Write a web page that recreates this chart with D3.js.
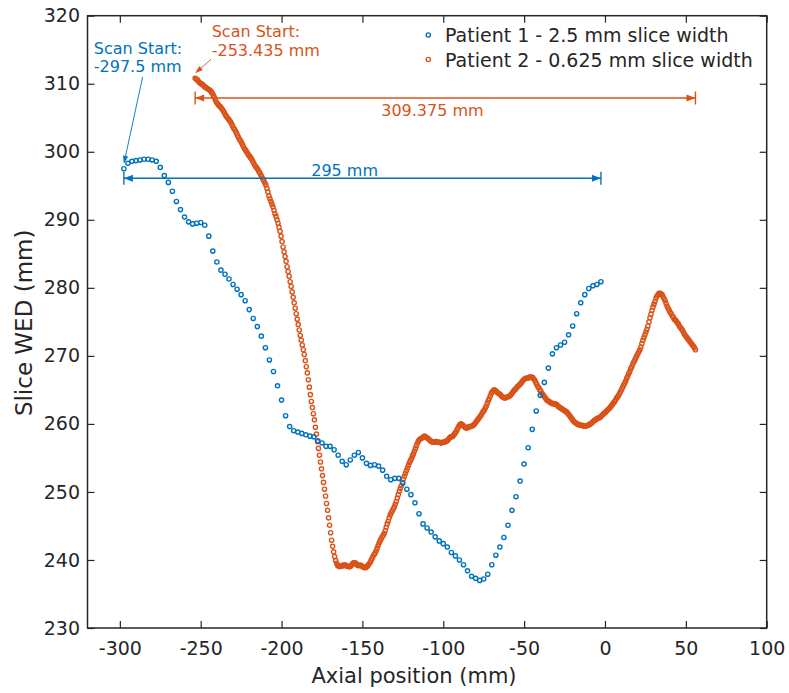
<!DOCTYPE html>
<html>
<head>
<meta charset="utf-8">
<script src="https://cdn.jsdelivr.net/npm/d3@7"></script>
<style>
  html, body { margin: 0; padding: 0; background: #fff; }
  svg { display: block; font-family: "DejaVu Sans", sans-serif; }
</style>
</head>
<body>
<svg id="chart" width="789" height="693"></svg>
<script>
// Axis ticks
const xTicks = [-300, -250, -200, -150, -100, -50, 0, 50, 100];
const yTicks = [230, 240, 250, 260, 270, 280, 290, 300, 310, 320];

// Series labels
const seriesNames = ["Patient 1 - 2.5 mm slice width", "Patient 2 - 0.625 mm slice width"];

// Patient 1: slice WED every 2.5 mm starting at the scan start
const p1Start = -297.5;
const p1Step = 2.5;
const p1Wed = [
  297.5, 298.3, 298.6, 298.7, 298.8, 298.9, 298.9, 298.8, 298.6, 297.7,
  296.5, 295.5, 294.2, 292.7, 291.5, 290.4, 289.7, 289.4, 289.5, 289.6,
  289.2, 287.6, 285.4, 283.8, 282.6, 282.0, 281.3, 280.5, 279.8, 279.0,
  278.1, 276.8, 275.5, 274.3, 272.9, 271.2, 269.4, 267.7, 265.6, 263.5,
  261.2, 259.6, 259.0, 258.8, 258.6, 258.4, 258.2, 258.1, 257.5, 257.2,
  256.7, 256.7, 256.2, 255.4, 254.5, 254.0, 254.7, 255.4, 255.8, 255.0,
  254.2, 253.9, 254.0, 253.8, 253.2, 252.3, 251.8, 252.0, 252.0, 251.3,
  250.4, 249.6, 248.4, 246.8, 245.3, 244.7, 244.1, 243.4, 242.8, 242.4,
  241.9, 241.1, 240.6, 240.0, 239.3, 238.4, 237.6, 237.3, 237.0, 237.2,
  237.9, 239.3, 240.7, 241.9, 243.3, 245.1, 247.3, 249.3, 251.6, 254.1,
  256.5, 259.2, 261.9, 264.2, 266.1, 268.2, 270.3, 271.2, 271.6, 272.0,
  273.1, 274.4, 276.2, 277.8, 279.0, 279.9, 280.3, 280.5, 280.9
];

// Patient 2: slice WED every 0.625 mm starting at the scan start
const p2Start = -253.435;
const p2Step = 0.625;
const p2Wed = [
  310.8, 310.7, 310.6, 310.4, 310.2, 310.1, 310.0, 309.9, 309.8, 309.6,
  309.5, 309.4, 309.3, 309.2, 309.1, 309.0, 308.8, 308.6, 308.3, 308.0,
  307.6, 307.3, 307.1, 306.9, 306.7, 306.6, 306.4, 306.2, 306.0, 305.7,
  305.4, 305.2, 305.0, 304.8, 304.6, 304.4, 304.1, 303.8, 303.5, 303.3,
  303.0, 302.7, 302.4, 302.1, 301.8, 301.6, 301.3, 301.0, 300.7, 300.4,
  300.2, 300.0, 299.7, 299.5, 299.3, 299.1, 298.9, 298.6, 298.3, 298.0,
  297.8, 297.6, 297.4, 297.1, 296.9, 296.6, 296.3, 296.0, 295.7, 295.4,
  295.1, 294.6, 294.1, 293.5, 293.1, 292.7, 292.3, 291.9, 291.4, 290.9,
  290.5, 290.0, 289.5, 288.9, 288.3, 287.6, 286.8, 286.0, 285.3, 284.6,
  283.9, 283.1, 282.4, 281.7, 280.9, 280.2, 279.4, 278.6, 277.8, 277.0,
  276.2, 275.4, 274.6, 273.8, 273.0, 272.3, 271.6, 270.9, 270.2, 269.3,
  268.4, 267.5, 266.5, 265.4, 264.3, 263.3, 262.4, 261.5, 260.6, 259.5,
  258.5, 257.4, 256.4, 255.4, 254.4, 253.4, 252.4, 251.4, 250.4, 249.4,
  248.3, 247.3, 246.2, 245.1, 244.0, 242.9, 242.0, 241.2, 240.5, 239.9,
  239.5, 239.2, 239.1, 239.0, 239.1, 239.1, 239.2, 239.2, 239.3, 239.2,
  239.1, 239.1, 239.0, 239.0, 239.1, 239.3, 239.5, 239.6, 239.6, 239.5,
  239.3, 239.2, 239.2, 239.2, 239.2, 239.1, 239.0, 238.9, 238.9, 238.9,
  239.0, 239.2, 239.4, 239.6, 239.9, 240.2, 240.5, 240.8, 241.0, 241.3,
  241.7, 242.1, 242.5, 242.8, 243.1, 243.4, 243.6, 243.9, 244.3, 244.8,
  245.3, 245.7, 246.2, 246.6, 246.9, 247.2, 247.5, 247.8, 248.2, 248.6,
  249.1, 249.6, 250.1, 250.5, 250.9, 251.4, 251.9, 252.3, 252.7, 253.1,
  253.5, 253.9, 254.3, 254.6, 254.9, 255.3, 255.6, 256.0, 256.4, 256.8,
  257.2, 257.5, 257.7, 257.8, 257.9, 258.0, 258.1, 258.2, 258.1, 258.0,
  257.9, 257.8, 257.6, 257.5, 257.4, 257.3, 257.3, 257.3, 257.4, 257.4,
  257.3, 257.3, 257.3, 257.2, 257.2, 257.3, 257.3, 257.4, 257.4, 257.5,
  257.6, 257.8, 258.0, 258.1, 258.1, 258.2, 258.4, 258.6, 258.8, 259.1,
  259.4, 259.7, 259.9, 260.0, 259.9, 259.8, 259.6, 259.5, 259.4, 259.4,
  259.5, 259.6, 259.6, 259.6, 259.7, 259.8, 259.9, 260.1, 260.3, 260.5,
  260.7, 260.9, 261.1, 261.3, 261.6, 261.8, 262.0, 262.3, 262.6, 263.0,
  263.4, 263.7, 264.1, 264.5, 264.7, 264.9, 265.0, 264.9, 264.8, 264.6,
  264.5, 264.4, 264.3, 264.1, 264.0, 263.9, 263.8, 263.8, 263.9, 264.0,
  264.0, 264.1, 264.2, 264.4, 264.6, 264.8, 265.0, 265.1, 265.3, 265.5,
  265.6, 265.8, 265.9, 266.1, 266.3, 266.5, 266.6, 266.7, 266.7, 266.7,
  266.8, 266.9, 266.9, 266.9, 266.8, 266.6, 266.4, 266.1, 265.8, 265.5,
  265.3, 265.0, 264.8, 264.5, 264.3, 264.1, 263.9, 263.7, 263.5, 263.4,
  263.3, 263.2, 263.1, 263.0, 263.0, 263.0, 262.9, 262.9, 262.8, 262.6,
  262.5, 262.4, 262.3, 262.2, 262.1, 262.0, 261.9, 261.8, 261.7, 261.5,
  261.3, 261.1, 260.9, 260.7, 260.5, 260.3, 260.2, 260.1, 260.0, 259.9,
  259.9, 259.8, 259.8, 259.8, 259.7, 259.7, 259.7, 259.7, 259.8, 259.8,
  259.9, 260.0, 260.1, 260.2, 260.4, 260.5, 260.6, 260.7, 260.8, 260.9,
  260.9, 261.0, 261.2, 261.3, 261.5, 261.6, 261.7, 261.9, 262.0, 262.2,
  262.3, 262.5, 262.7, 262.9, 263.1, 263.3, 263.5, 263.8, 264.0, 264.2,
  264.5, 264.8, 265.1, 265.4, 265.7, 266.0, 266.3, 266.7, 267.0, 267.4,
  267.7, 268.1, 268.4, 268.8, 269.1, 269.4, 269.7, 270.0, 270.3, 270.6,
  270.9, 271.3, 271.8, 272.3, 272.7, 273.1, 273.5, 273.9, 274.4, 275.0,
  275.6, 276.1, 276.7, 277.2, 277.6, 278.0, 278.5, 278.8, 279.0, 279.2,
  279.2, 279.1, 279.0, 278.7, 278.4, 278.1, 277.7, 277.3, 277.0, 276.7,
  276.4, 276.2, 275.9, 275.7, 275.4, 275.3, 275.1, 274.9, 274.7, 274.4,
  274.2, 274.0, 273.8, 273.5, 273.2, 273.0, 272.8, 272.6, 272.4, 272.2,
  272.0, 271.8, 271.6, 271.4, 271.2, 270.9
];

// Scan extent annotations
const p1Span = { start: -297.5, length: 295, y: 296.1, label: "295 mm", labelX: -161, labelY: 296.5 };
const p2Span = { start: -253.435, length: 309.375, y: 307.9, label: "309.375 mm", labelX: -106.7, labelY: 305.3 };

// Scan start callouts: text lines, text anchor and arrow tail (data units)
const p1Callout = { lines: ["Scan Start:", "-297.5 mm"], textX: -316.1, textY: [314.4, 311.7], tailX: -285.9, tailY: 311.0 };
const p2Callout = { lines: ["Scan Start:", "-253.435 mm"], textX: -243.2, textY: [316.8, 314.1], tailX: -243.6, tailY: 313.6 };

const colors = ["#0072BD", "#D95319"];
const axisColor = "#262626";

const svg = d3.select("#chart");
const plot = { left: 87.5, right: 766.7, top: 15.7, bottom: 628 };

const x = d3.scaleLinear().domain([-320, 100]).range([plot.left, plot.right]);
const y = d3.scaleLinear().domain([230, 320]).range([plot.bottom, plot.top]);

const p1 = p1Wed.map((v, i) => ({ x: p1Start + i * p1Step, y: v }));
const p2 = p2Wed.map((v, i) => ({ x: p2Start + i * p2Step, y: v }));

// Axes with inward ticks on all four sides
const fmt = d => String(d);
const tickLen = 7;

function styleAxis(g) {
  g.select(".domain").remove();
  g.selectAll(".tick line").attr("stroke", axisColor).attr("stroke-width", 1.2);
  g.selectAll(".tick text").attr("fill", axisColor).style("font-size", "19px")
    .style("font-family", "DejaVu Sans");
}

svg.append("g").attr("transform", `translate(0,${plot.bottom})`)
  .call(d3.axisBottom(x).tickValues(xTicks).tickFormat(fmt).tickSizeInner(-tickLen).tickSizeOuter(0).tickPadding(13.5))
  .call(styleAxis);
svg.append("g").attr("transform", `translate(0,${plot.top})`)
  .call(d3.axisTop(x).tickValues(xTicks).tickFormat("").tickSizeInner(-tickLen).tickSizeOuter(0))
  .call(styleAxis);
svg.append("g").attr("transform", `translate(${plot.left},0)`)
  .call(d3.axisLeft(y).tickValues(yTicks).tickFormat(fmt).tickSizeInner(-tickLen).tickSizeOuter(0).tickPadding(7.5))
  .call(styleAxis);
svg.append("g").attr("transform", `translate(${plot.right},0)`)
  .call(d3.axisRight(y).tickValues(yTicks).tickFormat("").tickSizeInner(-tickLen).tickSizeOuter(0))
  .call(styleAxis);

// Axes box
svg.append("rect")
  .attr("x", plot.left).attr("y", plot.top)
  .attr("width", plot.right - plot.left).attr("height", plot.bottom - plot.top)
  .attr("fill", "none").attr("stroke", axisColor).attr("stroke-width", 1.5);

// Axis labels
svg.append("text")
  .attr("x", 414).attr("y", 683)
  .attr("text-anchor", "middle").attr("fill", axisColor)
  .style("font-size", "21px").text("Axial position (mm)");
svg.append("text")
  .attr("transform", `translate(32,${(plot.top + plot.bottom) / 2 + 1}) rotate(-90)`)
  .attr("text-anchor", "middle").attr("fill", axisColor)
  .style("font-size", "23px").text("Slice WED (mm)");

// Data markers (open circles)
const markerR = 2.1;
function drawSeries(data, color) {
  svg.append("g").selectAll("circle").data(data).join("circle")
    .attr("cx", d => x(d.x)).attr("cy", d => y(d.y)).attr("r", markerR)
    .attr("fill", "none").attr("stroke", color).attr("stroke-width", 1.4);
}
drawSeries(p2, colors[1]);
drawSeries(p1, colors[0]);

// Dimension arrows |<----->| marking each scan length
function spanArrow(span, color) {
  const g = svg.append("g").attr("stroke", color).attr("fill", color);
  const x0 = x(span.start), x1 = x(span.start + span.length), yy = y(span.y);
  const head = 9, half = 3.5, bar = 6.5;
  g.append("line").attr("x1", x0).attr("x2", x1).attr("y1", yy).attr("y2", yy).attr("stroke-width", 1.4);
  g.append("line").attr("x1", x0).attr("x2", x0).attr("y1", yy - bar).attr("y2", yy + bar).attr("stroke-width", 1.4);
  g.append("line").attr("x1", x1).attr("x2", x1).attr("y1", yy - bar).attr("y2", yy + bar).attr("stroke-width", 1.4);
  g.append("path").attr("stroke", "none")
    .attr("d", `M${x0},${yy}L${x0 + head},${yy - half}L${x0 + head},${yy + half}Z`);
  g.append("path").attr("stroke", "none")
    .attr("d", `M${x1},${yy}L${x1 - head},${yy - half}L${x1 - head},${yy + half}Z`);
  svg.append("text").attr("x", x(span.labelX)).attr("y", y(span.labelY))
    .attr("text-anchor", "middle").attr("fill", color)
    .style("font-size", "16px").text(span.label);
}
spanArrow(p1Span, colors[0]);
spanArrow(p2Span, colors[1]);

// Callouts pointing at the first slice of each scan
function callout(c, first, color) {
  const t = svg.append("text").attr("fill", color).style("font-size", "16px");
  c.lines.forEach((s, i) => {
    t.append("tspan").attr("x", x(c.textX)).attr("y", y(c.textY[i])).text(s);
  });
  const tx = x(c.tailX), ty = y(c.tailY);
  const hx = x(first.x), hy = y(first.y) - 5;
  const ang = Math.atan2(hy - ty, hx - tx);
  const head = 8, half = 2.6;
  const bx = hx - head * Math.cos(ang), by = hy - head * Math.sin(ang);
  svg.append("line").attr("x1", tx).attr("y1", ty).attr("x2", bx).attr("y2", by)
    .attr("stroke", color).attr("stroke-width", 0.9);
  svg.append("path").attr("fill", color)
    .attr("d", `M${hx},${hy}L${bx - half * Math.sin(ang)},${by + half * Math.cos(ang)}L${bx + half * Math.sin(ang)},${by - half * Math.cos(ang)}Z`);
}
callout(p1Callout, p1[0], colors[0]);
callout(p2Callout, p2[0], colors[1]);

// Legend (no box)
const legend = svg.append("g");
seriesNames.forEach((name, i) => {
  const cy = 35 + i * 24.5;
  legend.append("circle").attr("cx", 428.3).attr("cy", cy).attr("r", markerR)
    .attr("fill", "none").attr("stroke", colors[i]).attr("stroke-width", 1.4);
  legend.append("text").attr("x", 445).attr("y", cy + 7)
    .attr("fill", axisColor).style("font-size", "19px").text(name);
});
</script>
</body>
</html>
